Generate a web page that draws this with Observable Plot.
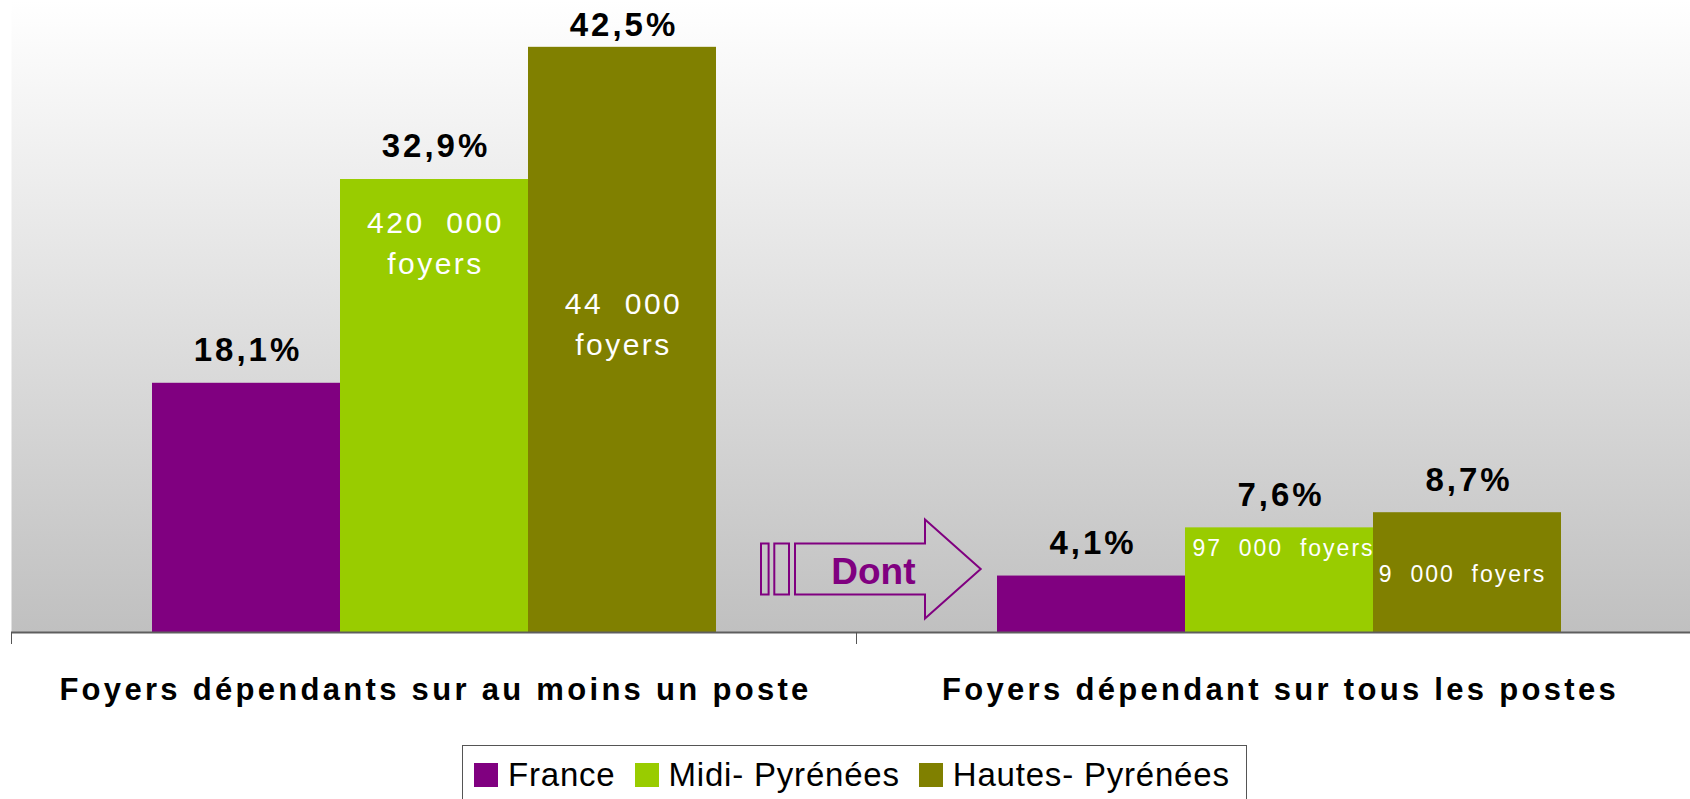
<!DOCTYPE html>
<html>
<head>
<meta charset="utf-8">
<script src="https://cdn.jsdelivr.net/npm/d3@7"></script>
<script src="https://cdn.jsdelivr.net/npm/@observablehq/plot@0.6"></script>
<style>
  html, body { margin: 0; padding: 0; background: #fff; overflow: hidden; }
  body { font-family: "Liberation Sans", Arial, sans-serif; position: relative; width: 1690px; height: 799px; }
  #chart svg { display: block; }
  g[aria-description="value-labels"] text { letter-spacing: 3px; }
  g[aria-description="count-big"] text { letter-spacing: 2.5px; }
  g[aria-description="count-small"] text { letter-spacing: 2px; }
  g[aria-description="category-labels"] text { letter-spacing: 3.3px; }
  #legend {
    position: absolute; left: 462px; top: 745px; width: 785px; height: 90px;
    box-sizing: border-box; border: 1px solid #555; padding: 12px 0 0 11px;
    display: flex; align-items: flex-start; white-space: nowrap;
    font-family: "Liberation Sans", Arial, sans-serif; font-size: 33px; line-height: 33px;
    letter-spacing: 0.8px; color: #000;
  }
  #legend .item { display: flex; align-items: center; margin-right: 19px; flex: none; white-space: nowrap; }
  #legend .sw { display: inline-block; width: 24px; height: 24px; margin-right: 10px; flex: none; }
</style>
</head>
<body>
<svg width="0" height="0" style="position:absolute">
  <defs>
    <linearGradient id="bgGrad" x1="0" y1="0" x2="0" y2="1">
      <stop offset="0" stop-color="#ffffff"/>
      <stop offset="1" stop-color="#c0c0c0"/>
    </linearGradient>
  </defs>
</svg>
<div id="chart"></div>
<div id="legend"></div>
<script>
const categories = ["Foyers dépendants sur au moins un poste", "Foyers dépendant sur tous les postes"];
const series = ["France", "Midi- Pyrénées", "Hautes- Pyrénées"];
const colors = ["#800080", "#99cc00", "#808000"];
const sharesAtLeastOne = [18.1, 32.9, 42.5];
const sharesAll = [4.1, 7.6, 8.7];
const householdsAtLeastOne = [null, 420000, 44000];
const householdsAll = [null, 97000, 9000];
const arrowLabel = "Dont";

const shares = [sharesAtLeastOne, sharesAll];
const households = [householdsAtLeastOne, householdsAll];
const table = categories.flatMap((c, i) => series.map((s, j) => ({
  category: c, series: s, value: shares[i][j], count: households[i][j], ci: i, sj: j
})));

const FONT = "Liberation Sans, Arial, sans-serif";
const yMax = 45.9;
// value labels are kept inside the plot area (as the original's top label is)
const labelCeil = yMax - 4.2;
const pct = v => v.toFixed(1).replace(".", ",") + "%";
const grp = v => d3.format(",")(v).replace(/,/g, "\u00a0\u00a0");
const both = (i, j) => d => d.ci === i && d.sj === j;

let arrowDone = false;
function decor(index, scales) {
  const x = scales && scales.x, y = scales && scales.y;
  if (!x || !y || !x.range) return null;
  const [a, b] = x.range();
  const base = y(0);
  const g = d3.create("svg:g");
  g.append("line")
    .attr("x1", a + 0.5).attr("x2", a + 0.5)
    .attr("y1", base).attr("y2", base + 12)
    .attr("stroke", "#555").attr("stroke-width", 1);
  if (!arrowDone) {
    arrowDone = true;
    const cy = base - 63, hs = 25.5, hh = 49.5;
    const col = colors[0];
    const ag = g.append("g").attr("fill", "none").attr("stroke", col).attr("stroke-width", 2);
    ag.append("rect").attr("x", b - 95).attr("y", cy - hs).attr("width", 7.6).attr("height", 2 * hs);
    ag.append("rect").attr("x", b - 81.7).attr("y", cy - hs).attr("width", 14.7).attr("height", 2 * hs);
    const p = d3.path();
    p.moveTo(b - 61, cy - hs);
    p.lineTo(b + 69, cy - hs);
    p.lineTo(b + 69, cy - hh);
    p.lineTo(b + 124.7, cy);
    p.lineTo(b + 69, cy + hh);
    p.lineTo(b + 69, cy + hs);
    p.lineTo(b - 61, cy + hs);
    p.closePath();
    ag.append("path").attr("d", p.toString()).attr("stroke-linejoin", "miter");
    g.append("text")
      .attr("x", b + 17.4).attr("y", cy + 14.5)
      .attr("text-anchor", "middle")
      .attr("fill", col)
      .style("font", `bold 37px ${FONT}`)
      .text(arrowLabel);
  }
  return g.node();
}

const chart = Plot.plot({
  width: 1690,
  height: 745,
  marginLeft: 11,
  marginRight: -11,
  marginTop: 0,
  marginBottom: 113,
  style: {fontFamily: FONT, background: "transparent"},
  facet: {data: table, x: "category"},
  fx: {domain: categories, padding: 0, axis: null},
  x: {domain: series, paddingInner: 0, paddingOuter: 0.745, axis: null},
  y: {domain: [0, yMax], axis: null},
  color: {domain: series, range: colors},
  marks: [
    Plot.frame({fill: "url(#bgGrad)", stroke: "none", insetRight: -1.5}),
    Plot.barY(table, {x: "series", y: "value", fill: "series"}),
    Plot.ruleY([0], {stroke: "#5e5e5e", strokeWidth: 2}),
    decor,
    Plot.text(table, {x: "series", y: d => Math.min(d.value, labelCeil), text: d => pct(d.value), dy: -22, dx: 1.5,
      lineAnchor: "bottom", fontSize: 33, fontWeight: "bold", fill: "#000", ariaDescription: "value-labels"}),
    Plot.text(table, {filter: both(0, 1), x: "series", y: "value", text: d => grp(d.count) + "\nfoyers",
      lineAnchor: "top", dy: 24.5, dx: 1, lineHeight: 1.37, fontSize: 30, fill: "white", ariaDescription: "count-big"}),
    Plot.text(table, {filter: both(0, 2), x: "series", y: d => d.value / 2, text: d => grp(d.count) + "\nfoyers",
      lineAnchor: "top", dy: -55, dx: 1, lineHeight: 1.37, fontSize: 30, fill: "white", ariaDescription: "count-big"}),
    Plot.text(table, {filter: both(1, 1), x: "series", y: "value", text: d => grp(d.count) + "\u00a0\u00a0foyers",
      lineAnchor: "top", dy: 12, dx: 4, fontSize: 23, fill: "white", ariaDescription: "count-small"}),
    Plot.text(table, {filter: both(1, 2), x: "series", y: d => d.value / 2, text: d => grp(d.count) + "\u00a0\u00a0foyers",
      lineAnchor: "top", dy: -6.5, dx: -5, fontSize: 23, fill: "white", ariaDescription: "count-small"}),
    Plot.text(table, {filter: d => d.sj === 0, text: "category", frameAnchor: "bottom", dy: 67, dx: 1.5, lineAnchor: "bottom",
      fontSize: 31, fontWeight: "bold", fill: "#000", ariaDescription: "category-labels"})
  ]
});
document.getElementById("chart").appendChild(chart);

const legend = d3.select("#legend");
series.forEach((s, j) => {
  const it = legend.append("div").attr("class", "item");
  it.append("span").attr("class", "sw").style("background", colors[j]);
  it.append("span").text(s);
});
</script>
</body>
</html>
